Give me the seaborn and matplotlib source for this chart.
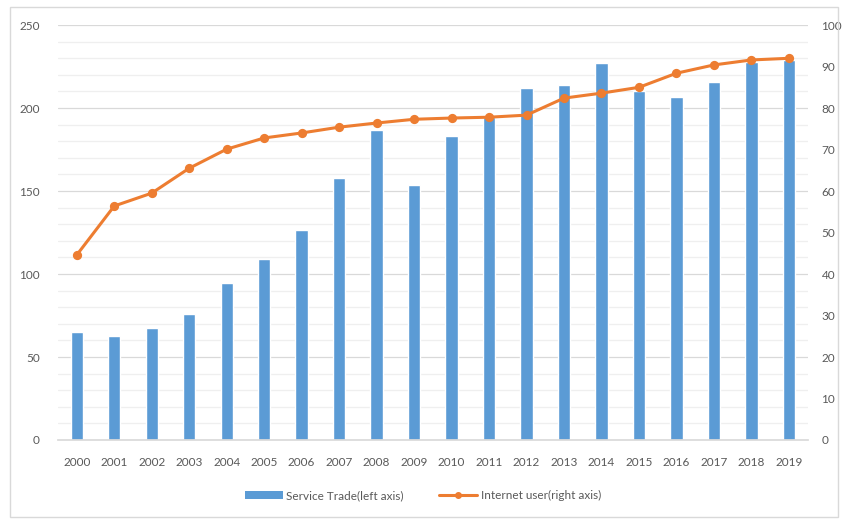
import matplotlib
matplotlib.use("Agg")
import matplotlib.pyplot as plt
import seaborn as sns
import pandas as pd
from matplotlib.patches import Patch, Rectangle
from matplotlib.lines import Line2D

sns.set_theme(style="white")
plt.rcParams['font.family'] = ['Lato', 'DejaVu Sans']

years = [str(y) for y in range(2000, 2020)]
service_trade = [65, 62.7, 67.5, 76, 94.6, 109, 126.5, 158, 187, 153.6,
                 183, 194.6, 212, 214, 227, 210, 206.6, 216, 228, 229]
internet_user = [44.6, 56.4, 59.5, 65.5, 70.1, 72.8, 74, 75.4, 76.4, 77.3,
                 77.6, 77.8, 78.3, 82.4, 83.6, 85, 88.4, 90.4, 91.6, 92]

df = pd.DataFrame({"year": years, "trade": service_trade, "users": internet_user})

bar_color = "#5B9BD5"
line_color = "#ED7D31"
text_color = "#595959"

fig = plt.figure(figsize=(8.46, 5.23), dpi=100)
fig.patches.append(Rectangle((0.012, 0.012), 0.978, 0.975, transform=fig.transFigure,
                             fill=False, edgecolor="#D9D9D9", linewidth=1))
ax = fig.add_axes([0.0686, 0.1587, 0.886, 0.7933])

# gridlines
for v in range(10, 251, 10):
    ax.axhline(v, color="#D9D9D9" if v % 50 == 0 else "#EFEFEF", linewidth=0.9, zorder=0)

sns.barplot(data=df, x="year", y="trade", ax=ax, color=bar_color, width=0.33,
            saturation=1, zorder=2)
ax.set_ylim(0, 250)
ax.set_yticks(range(0, 251, 50))
ax.set_xlabel("")
ax.set_ylabel("")
for s in ["top", "right", "left"]:
    ax.spines[s].set_visible(False)
ax.spines["bottom"].set_color("#D9D9D9")
ax.tick_params(axis="both", length=0, colors=text_color, labelsize=8.5, pad=12)
ax.tick_params(axis="y", pad=13)

ax2 = ax.twinx()
sns.pointplot(data=df, x="year", y="users", ax=ax2, color=line_color,
              markers="o", markersize=5, linewidth=2.2)
ax2.set_ylim(0, 100)
ax2.set_yticks(range(0, 101, 10))
ax2.set_ylabel("")
for s in ["top", "right", "left", "bottom"]:
    ax2.spines[s].set_visible(False)
ax2.tick_params(axis="y", length=0, colors=text_color, labelsize=8.5, pad=10)
ax.set_xlim(-0.5, 19.5)

handles = [Patch(facecolor=bar_color, edgecolor="none"),
           Line2D([], [], color=line_color, marker="o", markersize=4, linewidth=2.2)]
labels = ["Service Trade(left axis)", "Internet user(right axis)"]
fig.legend(handles, labels, loc="center", bbox_to_anchor=(0.5, 0.052), ncol=2,
           frameon=False, fontsize=8.5, labelcolor=text_color, handlelength=3.2,
           columnspacing=3, handletextpad=0.3)

fig.savefig("out.png", dpi=100)
